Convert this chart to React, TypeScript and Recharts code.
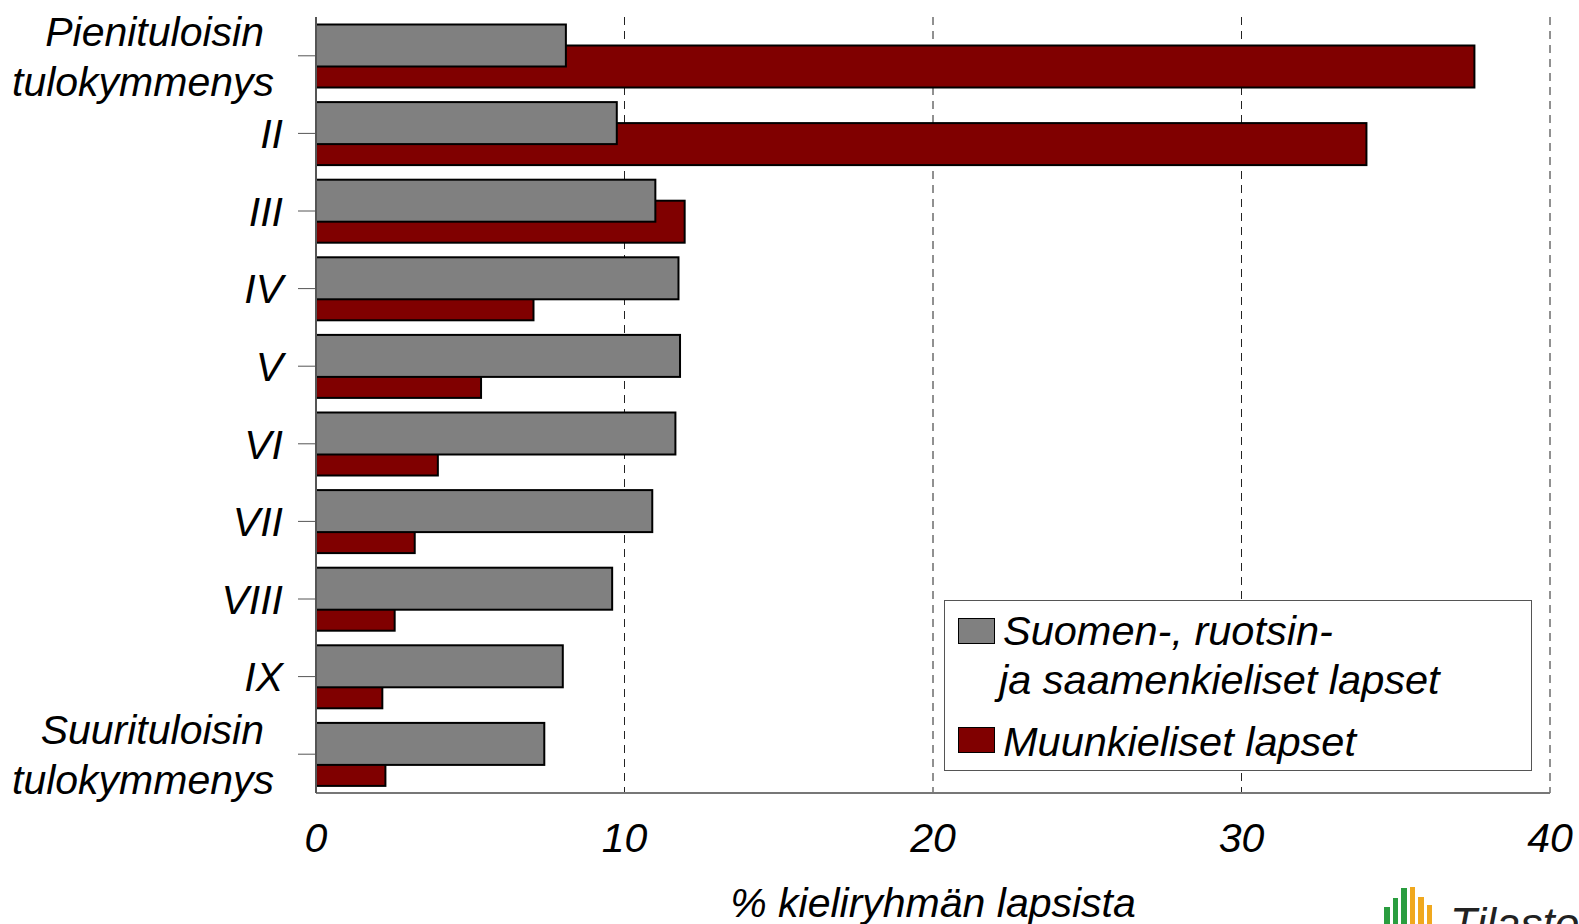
import {
  BarChart,
  Bar,
  XAxis,
  YAxis,
  CartesianGrid,
} from "recharts";

// tulokymmenykset (income deciles)
const deciles = [
  "Pienituloisin\ntulokymmenys",
  "II",
  "III",
  "IV",
  "V",
  "VI",
  "VII",
  "VIII",
  "IX",
  "Suurituloisin\ntulokymmenys",
];
const domesticKids = [8.1, 9.75, 11.0, 11.75, 11.8, 11.65, 10.9, 9.6, 8.0, 7.4];
const otherKids = [37.55, 34.05, 11.95, 7.05, 5.35, 3.95, 3.2, 2.55, 2.15, 2.25];
const xTicks = [0, 10, 20, 30, 40];
const seriesNames = [
  "Suomen-, ruotsin-\nja saamenkieliset lapset",
  "Muunkieliset lapset",
];

const data = deciles.map((name, i) => ({
  name,
  domestic: domesticKids[i],
  other: otherKids[i],
}));

const FONT = '"Liberation Sans", Arial, sans-serif';
const GREY = "#808080";
const RED = "#800000";

// bars share the band but sit half a bar apart, grey one in front
const shifted = (dy: number) => (props: any) => {
  const { x, y, width, height, fill } = props;
  if (!width) return <g />;
  return (
    <rect
      x={x}
      y={y + dy}
      width={width}
      height={height}
      fill={fill}
      stroke="#000"
      strokeWidth={2}
    />
  );
};

const DecileTick = (props: any) => {
  const { x, y, payload } = props;
  const lines = String(payload.value).split("\n");
  if (lines.length === 1) {
    return (
      <text
        x={x}
        y={y}
        dy="0.36em"
        textAnchor="end"
        fontFamily={FONT}
        fontStyle="italic"
        fontSize={41}
        fill="#000"
      >
        {lines[0]}
      </text>
    );
  }
  return (
    <g>
      <text x={x - 19} y={y - 25} dy="0.36em" textAnchor="end" fontFamily={FONT} fontStyle="italic" fontSize={41} fill="#000">
        {lines[0]}
      </text>
      <text x={x - 9} y={y + 25} dy="0.36em" textAnchor="end" fontFamily={FONT} fontStyle="italic" fontSize={41} fill="#000">
        {lines[1]}
      </text>
    </g>
  );
};

const LegendBox = () => {
  const txt = {
    position: "absolute" as const,
    fontFamily: FONT,
    fontStyle: "italic",
    fontSize: 41.5,
    lineHeight: "42px",
    whiteSpace: "nowrap" as const,
  };
  const swatch = (c: string, top: number) => ({
    position: "absolute" as const,
    left: 13,
    top,
    width: 35,
    height: 24,
    background: c,
    border: "1.5px solid #000",
  });
  const [first, second] = seriesNames;
  const [l1, l2] = first.split("\n");
  return (
    <div
      style={{
        position: "absolute",
        left: 944,
        top: 600,
        width: 586,
        height: 169,
        border: "1px solid #555",
        background: "#fff",
      }}
    >
      <div style={swatch(GREY, 17)} />
      <div style={{ ...txt, left: 58, top: 9 }}>{l1}</div>
      <div style={{ ...txt, left: 54, top: 58 }}>{l2}</div>
      <div style={swatch(RED, 126)} />
      <div style={{ ...txt, left: 58, top: 120 }}>{second}</div>
    </div>
  );
};

const Logo = () => {
  const bars = [
    { c: "#2a9d3f", top: 23 },
    { c: "#2a9d3f", top: 14 },
    { c: "#2a9d3f", top: 4 },
    { c: "#f0a81e", top: 3 },
    { c: "#f0a81e", top: 13 },
    { c: "#f0a81e", top: 21 },
  ];
  return (
    <div style={{ position: "absolute", left: 1384, top: 884, width: 195, height: 40 }}>
      {bars.map((b, i) => (
        <div
          key={i}
          style={{
            position: "absolute",
            left: i * 8.5,
            top: b.top,
            width: 5.5,
            height: 60,
            background: b.c,
          }}
        />
      ))}
      <div
        style={{
          position: "absolute",
          left: 66,
          top: 18,
          fontFamily: FONT,
          fontStyle: "italic",
          fontSize: 44,
          lineHeight: "44px",
          color: "#222",
          whiteSpace: "nowrap",
        }}
      >
        Tilastokeskus
      </div>
    </div>
  );
};

export default function App() {
  return (
    <div
      style={{
        position: "absolute",
        left: 0,
        top: 0,
        width: 1579,
        height: 924,
        overflow: "hidden",
        background: "#fff",
      }}
    >
      <BarChart
        width={1579}
        height={924}
        data={data}
        layout="vertical"
        margin={{ top: 17, right: 29, bottom: 0, left: 0 }}
      >
        <CartesianGrid
          horizontal={false}
          stroke="#222"
          strokeDasharray="8 6"
        />
        <XAxis
          type="number"
          domain={[0, 40]}
          ticks={xTicks}
          height={131}
          tickLine={false}
          tickSize={1}
          tickMargin={29}
          axisLine={{ stroke: "#777", strokeWidth: 2 }}
          tick={{ fontFamily: FONT, fontStyle: "italic", fontSize: 41, fill: "#000" }}
          label={{
            value: "% kieliryhmän lapsista",
            position: "insideBottom",
            offset: 7,
            fontFamily: FONT,
            fontStyle: "italic",
            fontSize: 41,
            fill: "#000",
          }}
        />
        <XAxis
          xAxisId="top"
          orientation="top"
          type="number"
          domain={[0, 40]}
          height={0}
          tick={false}
          tickLine={false}
          axisLine={{ stroke: "#888", strokeWidth: 2 }}
        />
        <YAxis
          type="category"
          dataKey="name"
          width={316}
          interval={0}
          tickSize={18}
          tickMargin={15}
          tickLine={{ stroke: "#555" }}
          axisLine={{ stroke: "#555", strokeWidth: 2 }}
          tick={<DecileTick />}
        />
        <YAxis yAxisId="front" type="category" dataKey="name" hide />
        <Bar
          dataKey="other"
          name={seriesNames[1]}
          fill={RED}
          barSize={42}
          shape={shifted(10.5)}
          isAnimationActive={false}
        />
        <Bar
          dataKey="domestic"
          yAxisId="front"
          name={seriesNames[0]}
          fill={GREY}
          barSize={42}
          shape={shifted(-10.5)}
          isAnimationActive={false}
        />
      </BarChart>
      <LegendBox />
      <Logo />
    </div>
  );
}
